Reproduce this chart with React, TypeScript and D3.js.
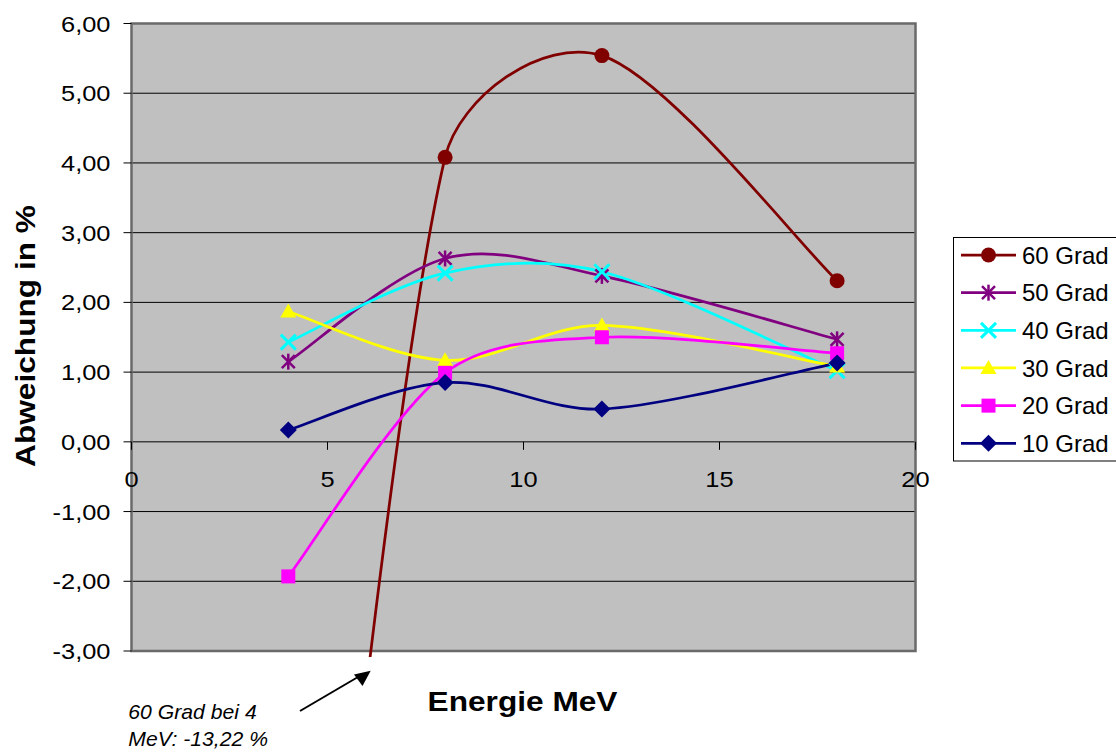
import React from "react";
import * as d3 from "d3";

const energies = [4, 8, 12, 18];
const seriesNames = ["60 Grad", "50 Grad", "40 Grad", "30 Grad", "20 Grad", "10 Grad"];
const seriesColors = ["#800000", "#800080", "#00FFFF", "#FFFF00", "#FF00FF", "#000080"];
const seriesMarkers = ["circle", "star", "x", "triangle", "square", "diamond"];
const v60 = [-13.22, 4.08, 5.54, 2.31];
const v50 = [1.15, 2.63, 2.38, 1.47];
const v40 = [1.43, 2.42, 2.44, 1.02];
const v30 = [1.87, 1.17, 1.67, 1.08];
const v20 = [-1.93, 0.99, 1.5, 1.27];
const v10 = [0.17, 0.85, 0.47, 1.13];
const seriesValues = [v60, v50, v40, v30, v20, v10];
const yTicks = [6, 5, 4, 3, 2, 1, 0, -1, -2, -3];
const xTicks = [0, 5, 10, 15, 20];

const FONT = "'Liberation Sans', Arial, sans-serif";
const L = 131.5, R = 915.5, T = 23.5, B = 651;

const x = d3.scaleLinear().domain([0, 20]).range([L, R]);
const y = d3.scaleLinear().domain([-3, 6]).range([B, T]);

function smoothPath(pts: [number, number][]) {
  const p = d3.path();
  const n = pts.length;
  const tan = (i: number): [number, number] => {
    const a = pts[Math.max(0, i - 1)];
    const b = pts[Math.min(n - 1, i + 1)];
    return [(b[0] - a[0]) / 6, (b[1] - a[1]) / 6];
  };
  const clamp = (t: [number, number], segLen: number): [number, number] => {
    const l = Math.hypot(t[0], t[1]);
    const m = segLen / 3;
    if (l > m && l > 0) return [(t[0] * m) / l, (t[1] * m) / l];
    return t;
  };
  p.moveTo(pts[0][0], pts[0][1]);
  for (let i = 0; i < n - 1; i++) {
    const a = pts[i], b = pts[i + 1];
    const seg = Math.hypot(b[0] - a[0], b[1] - a[1]);
    const t1 = clamp(tan(i), seg);
    const t2 = clamp(tan(i + 1), seg);
    p.bezierCurveTo(a[0] + t1[0], a[1] + t1[1], b[0] - t2[0], b[1] - t2[1], b[0], b[1]);
  }
  return p.toString();
}

function Marker({ type, cx, cy, color }: { type: string; cx: number; cy: number; color: string }) {
  switch (type) {
    case "circle":
      return <circle cx={cx} cy={cy} r={7.5} fill={color} />;
    case "star":
      return (
        <g stroke={color} strokeWidth={2.5}>
          <line x1={cx - 6.5} y1={cy - 6.5} x2={cx + 6.5} y2={cy + 6.5} />
          <line x1={cx - 6.5} y1={cy + 6.5} x2={cx + 6.5} y2={cy - 6.5} />
          <line x1={cx} y1={cy - 8} x2={cx} y2={cy + 8} />
        </g>
      );
    case "x":
      return (
        <g stroke={color} strokeWidth={3}>
          <line x1={cx - 7.5} y1={cy - 7.5} x2={cx + 7.5} y2={cy + 7.5} />
          <line x1={cx - 7.5} y1={cy + 7.5} x2={cx + 7.5} y2={cy - 7.5} />
        </g>
      );
    case "triangle":
      return <path d={`M${cx},${cy - 8}L${cx + 8},${cy + 6}L${cx - 8},${cy + 6}Z`} fill={color} />;
    case "square":
      return <rect x={cx - 7} y={cy - 7} width={14} height={14} fill={color} />;
    case "diamond":
      return <path d={`M${cx},${cy - 8.5}L${cx + 8.5},${cy}L${cx},${cy + 8.5}L${cx - 8.5},${cy}Z`} fill={color} />;
  }
  return null;
}

function SText(props: {
  x: number; y: number; sx?: number; rot?: number; anchor?: string; size: number;
  weight?: string; italic?: boolean; children: React.ReactNode;
}) {
  const { x: tx, y: ty, sx = 1, rot = 0, anchor = "start", size, weight = "normal", italic = false } = props;
  return (
    <text
      transform={`translate(${tx},${ty}) rotate(${rot}) scale(${sx},1)`}
      textAnchor={anchor}
      fontFamily={FONT}
      fontSize={size}
      fontWeight={weight}
      fontStyle={italic ? "italic" : "normal"}
      fill="#000"
    >
      {props.children}
    </text>
  );
}

export default function App() {
  const legendRowY = (i: number) => 255 + i * 37.66;
  return (
    <div style={{ position: "absolute", left: 0, top: 0 }}>
      <svg width={1116} height={752} style={{ display: "block", background: "#fff" }}>
        <defs>
          <clipPath id="plotclip">
            <rect x={L} y={T - 10} width={R - L} height={B - T + 16} />
          </clipPath>
        </defs>
        {/* plot area */}
        <rect x={L} y={T} width={R - L} height={B - T} fill="#C0C0C0" />
        {yTicks.map((t) => (
          <line key={"g" + t} x1={L} x2={R} y1={y(t)} y2={y(t)} stroke={t === 0 || t === -3 ? "#404040" : "#000"} strokeWidth={t === 0 ? 1.5 : 1} />
        ))}
        <rect x={L} y={T} width={R - L} height={B - T} fill="none" stroke="#6a6a6a" strokeWidth={2.5} />
        {/* y ticks */}
        {yTicks.map((t) => (
          <line key={"yt" + t} x1={L - 8} x2={L} y1={y(t)} y2={y(t)} stroke="#000" strokeWidth={1} />
        ))}
        {/* x ticks on zero axis */}
        {xTicks.map((t) => (
          <line key={"xt" + t} x1={x(t)} x2={x(t)} y1={y(0)} y2={y(0) + 8} stroke="#000" strokeWidth={1} />
        ))}
        {/* y tick labels */}
        {yTicks.map((t) => (
          <SText key={"yl" + t} x={110.5} y={y(t) + 8} anchor="end" size={22.5} sx={1.13}>
            {d3.format(".2f")(t).replace(".", ",").replace("−", "-")}
          </SText>
        ))}
        {/* x tick labels */}
        {xTicks.map((t) => (
          <SText key={"xl" + t} x={x(t)} y={487} anchor="middle" size={22.5} sx={1.13}>
            {String(t)}
          </SText>
        ))}
        {/* series */}
        <g clipPath="url(#plotclip)">
          {seriesValues.map((vals, si) => {
            const pts = vals.map((v, i) => [x(energies[i]), y(v)] as [number, number]);
            return (
              <path key={"s" + si} d={smoothPath(pts)} fill="none" stroke={seriesColors[si]} strokeWidth={2.75} />
            );
          })}
        </g>
        {seriesValues.map((vals, si) => (
          <g key={"m" + si}>
            {vals.map((v, i) =>
              v >= -3 && v <= 6 ? (
                <Marker key={i} type={seriesMarkers[si]} cx={x(energies[i])} cy={y(v)} color={seriesColors[si]} />
              ) : null
            )}
          </g>
        ))}
        {/* axis titles */}
        <SText x={35} y={336} rot={-90} anchor="middle" size={28} weight="bold" sx={1.13}>
          Abweichung in %
        </SText>
        <SText x={522.5} y={710.5} anchor="middle" size={28} weight="bold" sx={1.13}>
          Energie MeV
        </SText>
        {/* annotation */}
        <SText x={128.3} y={719} size={20} italic sx={1.06}>
          60 Grad bei 4
        </SText>
        <SText x={128.3} y={746} size={20} italic sx={1.06}>
          MeV: -13,22 %
        </SText>
        <line x1={300} y1={711} x2={358} y2={677} stroke="#000" strokeWidth={2} />
        <path d="M370.7,670.7L354,674.5L362.5,686Z" fill="#000" />
        {/* legend */}
        <rect x={953.5} y={237.5} width={170} height={223.5} fill="#fff" stroke="#000" strokeWidth={1} />
        {seriesNames.map((name, i) => {
          const ry = legendRowY(i);
          return (
            <g key={"lg" + i}>
              <line x1={961} x2={1016} y1={ry} y2={ry} stroke={seriesColors[i]} strokeWidth={2.75} />
              <Marker type={seriesMarkers[i]} cx={988.5} cy={ry} color={seriesColors[i]} />
              <SText x={1022} y={ry + 8.6} size={24}>
                {name}
              </SText>
            </g>
          );
        })}
      </svg>
    </div>
  );
}
